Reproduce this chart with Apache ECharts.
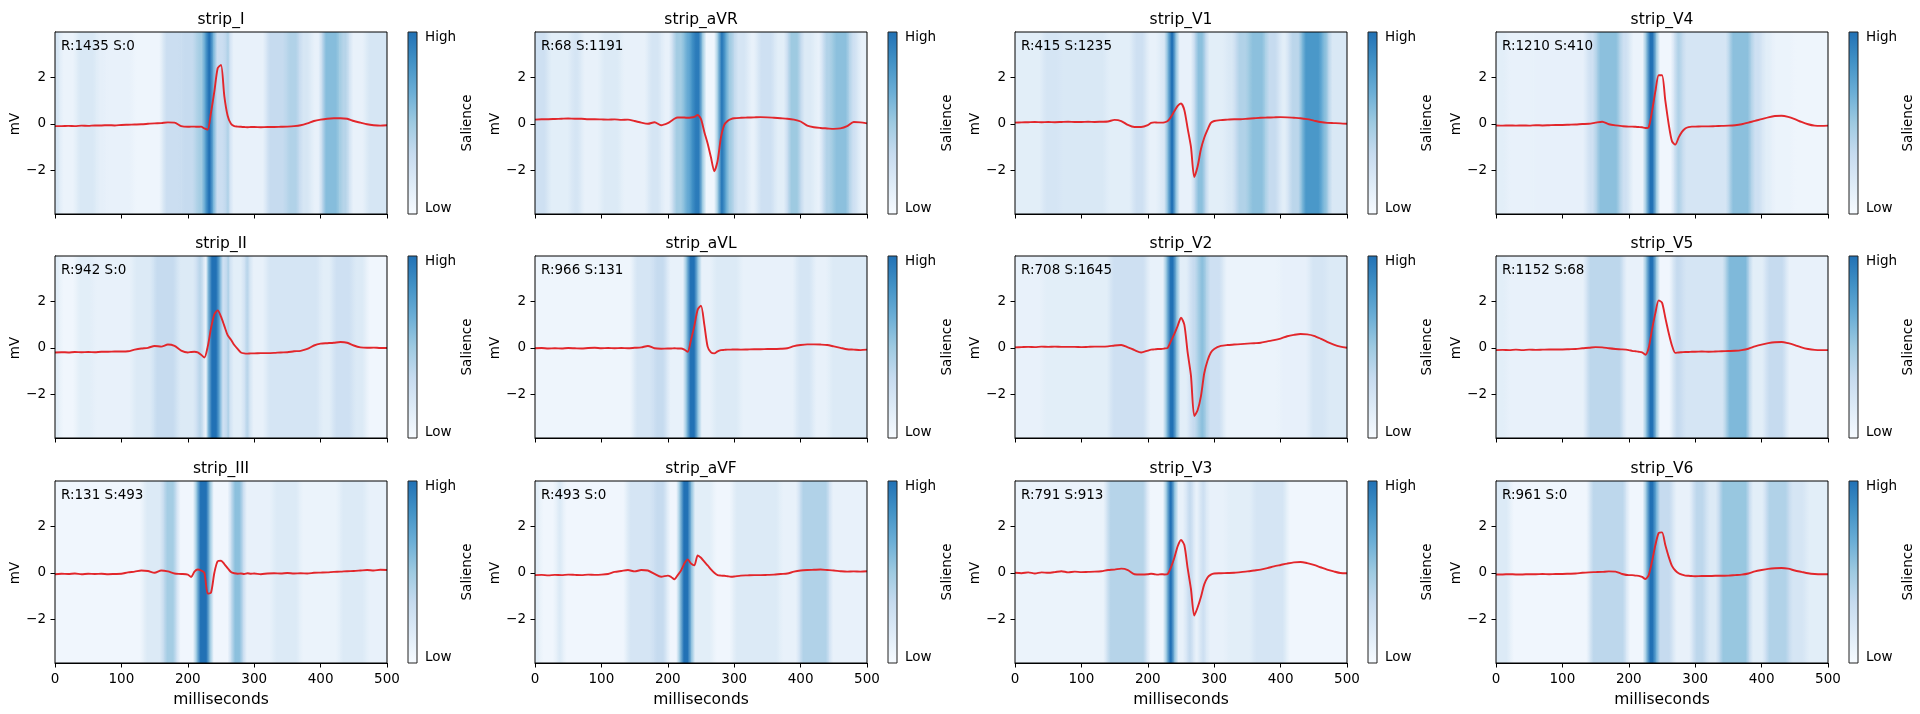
<!DOCTYPE html>
<html><head><meta charset="utf-8">
<script src="https://cdn.jsdelivr.net/npm/echarts@6/dist/echarts.min.js"></script>
<style>html,body{margin:0;padding:0;background:#fff}#c{width:1920px;height:714px}</style>
</head><body><div id="c"></div>
<script>
// ---------------- DATA ----------------
const leadNames = ['strip_I','strip_aVR','strip_V1','strip_V4','strip_II','strip_aVL','strip_V2','strip_V5','strip_III','strip_aVF','strip_V3','strip_V6'];
const rAmp = [1435,68,415,1210,942,966,708,1152,131,493,791,961];
const sAmp = [0,1191,1235,410,0,131,1645,68,493,0,913,0];
const xTicks = [0,100,200,300,400,500];
const yTicks = [-2,0,2];
const colorbarLabels = ['Low','High'];

const timeMs = [0,10,20,30,40,50,60,70,80,90,100,110,120,130,140,150,160,170,180,190,
 200,205,210,215,220,225,230,235,240,245,250,255,260,265,270,275,280,285,290,295,
 300,310,320,330,340,350,360,370,380,390,400,410,420,430,440,450,460,470,480,490,500];

const ecg_I = [-0.10,-0.10,-0.09,-0.10,-0.08,-0.09,-0.07,-0.07,-0.06,-0.07,
 -0.05,-0.04,-0.03,-0.02,0.00,0.02,0.03,0.06,0.05,-0.10,
 -0.13,-0.12,-0.12,-0.13,-0.12,-0.20,-0.25,0.50,1.40,2.40,
 2.55,1.20,0.35,0.00,-0.10,-0.12,-0.13,-0.14,-0.15,-0.14,
 -0.14,-0.15,-0.14,-0.14,-0.13,-0.12,-0.10,-0.06,0.02,0.12,
 0.18,0.22,0.24,0.24,0.22,0.12,0.05,-0.02,-0.06,-0.08,-0.06];
const ecg_aVR = [0.18,0.20,0.20,0.21,0.22,0.23,0.22,0.22,0.20,0.20,
 0.19,0.18,0.19,0.17,0.18,0.12,0.05,0.00,0.07,-0.06,
 0.03,0.12,0.22,0.27,0.27,0.27,0.26,0.27,0.30,0.38,
 0.20,-0.35,-0.85,-1.45,-2.05,-1.60,-0.60,-0.05,0.12,0.20,
 0.24,0.26,0.27,0.28,0.29,0.28,0.26,0.24,0.22,0.18,
 0.10,-0.08,-0.15,-0.18,-0.20,-0.22,-0.20,-0.10,0.08,0.06,0.02];
const ecg_V1 = [0.05,0.06,0.07,0.08,0.07,0.08,0.07,0.08,0.09,0.08,
 0.08,0.09,0.08,0.09,0.10,0.17,0.12,-0.05,-0.14,-0.14,
 -0.06,0.04,0.06,0.05,0.05,0.06,0.12,0.30,0.55,0.78,
 0.88,0.60,-0.20,-1.00,-2.30,-1.85,-1.10,-0.60,-0.25,0.04,
 0.12,0.16,0.18,0.20,0.20,0.22,0.24,0.26,0.27,0.28,
 0.29,0.28,0.26,0.24,0.20,0.14,0.08,0.04,0.03,0.02,0.00];
const ecg_V4 = [-0.07,-0.08,-0.07,-0.08,-0.07,-0.08,-0.06,-0.07,-0.06,-0.05,
 -0.05,-0.04,-0.03,-0.01,0.00,0.05,0.09,-0.02,-0.07,-0.10,
 -0.12,-0.12,-0.13,-0.14,-0.15,-0.18,-0.15,0.55,1.40,2.10,
 2.10,1.00,0.00,-0.75,-0.90,-0.60,-0.35,-0.20,-0.14,-0.12,
 -0.12,-0.11,-0.11,-0.10,-0.09,-0.08,-0.06,-0.02,0.05,0.13,
 0.20,0.28,0.34,0.35,0.30,0.20,0.08,-0.02,-0.08,-0.09,-0.08];
const ecg_II = [-0.20,-0.19,-0.20,-0.18,-0.19,-0.18,-0.19,-0.17,-0.17,-0.16,
 -0.16,-0.15,-0.08,-0.03,0.00,0.08,0.05,0.14,0.08,-0.12,
 -0.20,-0.18,-0.17,-0.20,-0.30,-0.42,0.05,0.85,1.45,1.62,
 1.35,0.95,0.55,0.35,0.12,-0.05,-0.20,-0.24,-0.25,-0.24,
 -0.24,-0.23,-0.23,-0.22,-0.20,-0.19,-0.15,-0.13,-0.05,0.10,
 0.18,0.20,0.22,0.25,0.22,0.10,0.02,0.00,0.01,-0.01,-0.01];
const ecg_aVL = [-0.02,-0.01,-0.03,-0.02,-0.03,-0.01,-0.02,-0.03,-0.01,0.00,
 -0.02,-0.01,-0.02,-0.01,-0.02,0.00,0.02,0.08,-0.02,-0.04,
 -0.03,-0.03,-0.02,-0.03,-0.03,-0.08,-0.17,0.35,0.95,1.65,
 1.82,1.00,0.05,-0.20,-0.24,-0.15,-0.10,-0.09,-0.08,-0.08,
 -0.07,-0.08,-0.07,-0.06,-0.06,-0.05,-0.05,-0.04,-0.02,0.07,
 0.12,0.15,0.15,0.14,0.12,0.06,0.00,-0.06,-0.08,-0.10,-0.08];
const ecg_V2 = [0.02,0.03,0.04,0.03,0.05,0.04,0.05,0.04,0.04,0.04,
 0.03,0.04,0.05,0.05,0.06,0.10,0.12,0.02,-0.10,-0.20,
 -0.12,-0.08,-0.07,-0.05,-0.05,-0.03,0.00,0.30,0.60,0.95,
 1.30,1.00,-0.20,-1.20,-2.95,-2.70,-2.10,-1.10,-0.55,-0.20,
 -0.05,0.08,0.12,0.14,0.16,0.18,0.20,0.22,0.28,0.33,
 0.40,0.50,0.56,0.60,0.58,0.52,0.40,0.26,0.14,0.05,0.00];
const ecg_V5 = [-0.10,-0.09,-0.10,-0.08,-0.10,-0.08,-0.09,-0.08,-0.07,-0.07,
 -0.07,-0.06,-0.05,-0.02,0.00,0.03,0.02,-0.02,-0.05,-0.07,
 -0.10,-0.13,-0.15,-0.17,-0.20,-0.30,0.00,0.80,1.50,2.05,
 1.95,1.30,0.65,0.10,-0.22,-0.20,-0.19,-0.18,-0.18,-0.17,
 -0.17,-0.16,-0.17,-0.16,-0.15,-0.14,-0.13,-0.10,-0.04,0.06,
 0.14,0.20,0.24,0.25,0.20,0.12,0.02,-0.05,-0.09,-0.10,-0.10];
const ecg_III = [-0.06,-0.04,-0.05,-0.03,-0.06,-0.04,-0.05,-0.04,-0.06,-0.05,
 -0.04,0.02,0.05,0.10,0.08,0.00,0.10,0.06,-0.03,-0.05,
 -0.08,-0.18,0.05,0.14,0.10,0.00,-0.90,-0.85,0.00,0.50,
 0.52,0.38,0.20,0.03,-0.02,-0.04,-0.03,-0.05,-0.02,-0.04,
 -0.03,-0.06,-0.03,-0.02,-0.03,-0.01,-0.03,-0.02,-0.03,0.00,
 0.01,0.02,0.04,0.05,0.07,0.08,0.10,0.12,0.10,0.13,0.12];
const ecg_aVF = [-0.10,-0.09,-0.11,-0.09,-0.10,-0.08,-0.09,-0.10,-0.08,-0.09,
 -0.08,-0.05,0.04,0.08,0.12,0.06,0.12,0.10,-0.05,-0.17,
 -0.12,-0.18,-0.28,-0.10,0.10,0.40,0.58,0.40,0.32,0.75,
 0.65,0.48,0.32,0.15,0.00,-0.10,-0.12,-0.13,-0.15,-0.17,
 -0.16,-0.12,-0.11,-0.10,-0.10,-0.09,-0.08,-0.05,-0.03,0.05,
 0.10,0.12,0.13,0.14,0.12,0.10,0.07,0.05,0.06,0.05,0.07];
const ecg_V3 = [0.00,-0.02,0.02,-0.03,0.02,0.00,0.03,0.07,0.02,0.05,
 0.03,0.04,0.05,0.07,0.12,0.14,0.18,0.12,-0.06,-0.07,
 -0.06,-0.04,-0.06,-0.08,-0.06,-0.07,-0.05,0.25,0.65,1.15,
 1.42,1.20,0.20,-0.70,-1.85,-1.50,-1.05,-0.50,-0.20,-0.08,
 -0.03,-0.02,-0.01,0.00,0.03,0.06,0.10,0.14,0.20,0.28,
 0.34,0.40,0.45,0.47,0.42,0.34,0.24,0.14,0.06,-0.01,-0.02];
const ecg_V6 = [-0.07,-0.07,-0.06,-0.07,-0.07,-0.06,-0.06,-0.05,-0.06,-0.05,
 -0.05,-0.04,-0.03,0.00,0.02,0.03,0.04,0.06,0.05,-0.05,
 -0.10,-0.10,-0.12,-0.13,-0.18,-0.27,-0.10,0.50,1.20,1.72,
 1.75,1.20,0.70,0.30,0.10,-0.02,-0.08,-0.12,-0.13,-0.14,
 -0.15,-0.14,-0.14,-0.13,-0.13,-0.12,-0.10,-0.08,-0.03,0.06,
 0.12,0.17,0.20,0.21,0.18,0.10,0.04,-0.02,-0.05,-0.06,-0.06];

// salience bands: [start ms, end ms, salience 0..1]
const sal_I = [[0,7,0.22],[7,32,0.08],[32,62,0.2],[62,77,0.12],[77,117,0.1],[117,162,0.06],[162,190,0.3],[190,212,0.33],[212,226,0.48],[226,238,1.0],[238,257,0.3],[257,263,0.42],[263,318,0.1],[318,348,0.33],[348,368,0.42],[368,385,0.22],[385,402,0.1],[402,428,0.58],[428,443,0.4],[443,468,0.1],[468,500,0.22]];
const sal_aVR = [[0,19,0.28],[19,54,0.14],[54,69,0.23],[69,99,0.1],[99,129,0.18],[129,170,0.1],[170,190,0.23],[190,207,0.1],[207,225,0.48],[225,236,0.7],[236,252,0.95],[252,275,0.05],[275,287,0.95],[287,300,0.48],[300,320,0.23],[320,335,0.1],[335,360,0.28],[360,380,0.14],[380,400,0.5],[400,420,0.18],[420,433,0.1],[433,448,0.42],[448,473,0.56],[473,486,0.28],[486,500,0.1]];
const sal_V1 = [[0,42,0.14],[42,67,0.23],[67,137,0.2],[137,177,0.14],[177,197,0.28],[197,217,0.1],[217,230,0.2],[230,242,1.0],[242,270,0.1],[270,287,0.56],[287,317,0.14],[317,332,0.2],[332,352,0.42],[352,377,0.56],[377,397,0.33],[397,412,0.14],[412,432,0.38],[432,462,0.8],[462,472,0.56],[472,500,0.2]];
const sal_V4 = [[0,16,0.14],[16,56,0.1],[56,136,0.11],[136,151,0.28],[151,186,0.56],[186,201,0.28],[201,226,0.08],[226,241,1.0],[241,268,0.05],[268,281,0.42],[281,351,0.23],[351,384,0.56],[384,401,0.28],[401,416,0.14],[416,447,0.08],[447,500,0.06]];
const sal_II = [[0,7,0.14],[7,32,0.05],[32,57,0.14],[57,117,0.1],[117,148,0.18],[148,183,0.33],[183,213,0.18],[213,223,0.38],[223,230,0.1],[230,248,1.0],[248,258,0.28],[258,263,0.42],[263,285,0.14],[285,293,0.38],[293,318,0.1],[318,398,0.23],[398,418,0.14],[418,448,0.28],[448,468,0.18],[468,500,0.05]];
const sal_aVL = [[0,148,0.06],[148,178,0.23],[178,198,0.33],[198,228,0.1],[228,245,1.0],[245,268,0.1],[268,308,0.18],[308,393,0.1],[393,418,0.23],[418,443,0.1],[443,500,0.18]];
const sal_V2 = [[0,42,0.1],[42,143,0.14],[143,198,0.28],[198,228,0.1],[228,243,1.0],[243,263,0.14],[263,275,0.33],[275,288,0.56],[288,313,0.28],[313,398,0.08],[398,443,0.11],[443,468,0.23],[468,500,0.18]];
const sal_V5 = [[0,16,0.14],[16,136,0.1],[136,191,0.37],[191,226,0.1],[226,241,1.0],[241,266,0.05],[266,281,0.33],[281,346,0.23],[346,381,0.6],[381,406,0.14],[406,436,0.33],[436,500,0.1]];
const sal_III = [[0,133,0.05],[133,163,0.18],[163,183,0.47],[183,213,0.05],[213,233,1.0],[233,265,0.05],[265,283,0.56],[283,328,0.1],[328,368,0.18],[368,428,0.08],[428,468,0.18],[468,500,0.1]];
const sal_aVF = [[0,7,0.14],[7,32,0.05],[32,42,0.18],[42,138,0.05],[138,178,0.23],[178,198,0.33],[198,218,0.05],[218,235,1.0],[235,268,0.14],[268,298,0.05],[298,368,0.18],[368,398,0.1],[398,443,0.42],[443,500,0.1]];
const sal_V3 = [[0,138,0.08],[138,198,0.4],[198,228,0.05],[228,240,1.0],[240,258,0.1],[258,268,0.33],[268,278,0.1],[278,288,0.28],[288,318,0.1],[318,358,0.14],[358,408,0.23],[408,500,0.05]];
const sal_V6 = [[0,21,0.18],[21,141,0.05],[141,196,0.37],[196,226,0.05],[226,241,1.0],[241,266,0.33],[266,296,0.1],[296,316,0.37],[316,336,0.18],[336,381,0.52],[381,406,0.14],[406,441,0.42],[441,466,0.23],[466,500,0.14]];

// ---------------- LAYOUT / STYLE ----------------
const ecgs = [ecg_I,ecg_aVR,ecg_V1,ecg_V4,ecg_II,ecg_aVL,ecg_V2,ecg_V5,ecg_III,ecg_aVF,ecg_V3,ecg_V6];
const sals = [sal_I,sal_aVR,sal_V1,sal_V4,sal_II,sal_aVL,sal_V2,sal_V5,sal_III,sal_aVF,sal_V3,sal_V6];
const colLeft = [55, 535, 1015, 1496];
const rowTop = [32, 256, 481];
const plotW = 332, plotH = 182;
const Y_MIN = -3.9, Y_MAX = 3.97;
const FONT = 'DejaVu Sans';
const SMALL = 13.5, LARGE = 15.5;
const EDGE_MS = 6;
const LINE_COLOR = '#e2262b';
const cmapStops = ['#f7fbff','#deebf7','#c6dbef','#9ecae1','#6baed6','#4292c6','#2171b5'];

function hex2rgb(h){return [parseInt(h.slice(1,3),16),parseInt(h.slice(3,5),16),parseInt(h.slice(5,7),16)];}
const cmapRGB = cmapStops.map(hex2rgb);
function cmap(v){
  v = Math.max(0, Math.min(1, v));
  const n = cmapRGB.length - 1;
  const p = v * n; const i = Math.min(n - 1, Math.floor(p)); const f = p - i;
  const a = cmapRGB[i], b = cmapRGB[i+1];
  return 'rgb(' + [0,1,2].map(k => Math.round(a[k] + (b[k]-a[k])*f)).join(',') + ')';
}
function minusFmt(v){ return v < 0 ? '\u2212' + Math.abs(v) : String(v); }

function heatRender(bands){
  return function(params, api){
    const i = params.dataIndex;
    const s = api.value(0), e = api.value(1), v = api.value(2);
    const p0 = api.coord([s, Y_MAX]), p1 = api.coord([e, Y_MIN]);
    const vl = i > 0 ? bands[i-1][2] : v;
    const vr = i < bands.length - 1 ? bands[i+1][2] : v;
    const f = Math.min(0.45, EDGE_MS / (e - s));
    const fill = new echarts.graphic.LinearGradient(0,0,1,0,[
      {offset:0, color:cmap((vl+v)/2)},{offset:f, color:cmap(v)},
      {offset:1-f, color:cmap(v)},{offset:1, color:cmap((v+vr)/2)}]);
    return {type:'rect', shape:{x:p0[0], y:p0[1], width:(p1[0]-p0[0])+0.6, height:p1[1]-p0[1]}, style:{fill:fill}};
  };
}
function frameRender(params){
  const c = params.coordSys;
  return {type:'rect', shape:{x:c.x, y:c.y, width:c.width, height:c.height}, style:{fill:null, stroke:'#000', lineWidth:1}};
}
function colorbarRender(params){
  const c = params.coordSys;
  const stops = cmapStops.map((col,k)=>({offset:k/(cmapStops.length-1), color:col}));
  return {type:'rect', shape:{x:c.x, y:c.y, width:c.width, height:c.height},
    style:{fill:new echarts.graphic.LinearGradient(0,1,0,0,stops), stroke:'#222', lineWidth:1}};
}

const grids=[], xAxes=[], yAxes=[], series=[], graphics=[];
const N = leadNames.length;
for (let i = 0; i < N; i++){
  const r = Math.floor(i/4), c = i % 4;
  const L = colLeft[c], T = rowTop[r];
  const bottomRow = (r === 2);
  grids.push({left:L, top:T, width:plotW, height:plotH});
  xAxes.push({type:'value', gridIndex:i, min:0, max:500, interval:100,
    axisLine:{show:true, onZero:false, lineStyle:{color:'#000', width:1}},
    axisTick:{show:true, length:4.5, lineStyle:{color:'#000', width:1}},
    axisLabel:{show:bottomRow, margin:9, fontSize:SMALL, color:'#000', fontFamily:FONT},
    splitLine:{show:false}});
  yAxes.push({type:'value', gridIndex:i, min:Y_MIN, max:Y_MAX,
    axisLine:{show:true, onZero:false, lineStyle:{color:'#000', width:1}},
    axisTick:{show:true, length:4.5, customValues:yTicks, lineStyle:{color:'#000', width:1}},
    axisLabel:{show:true, customValues:yTicks, formatter:minusFmt, margin:9, fontSize:SMALL, color:'#000', fontFamily:FONT},
    splitLine:{show:false}});
  series.push({type:'custom', xAxisIndex:i, yAxisIndex:i, data:sals[i], renderItem:heatRender(sals[i]), clip:true, z:1, silent:true});
  series.push({type:'line', xAxisIndex:i, yAxisIndex:i, data:timeMs.map((t,k)=>[t, ecgs[i][k]]),
    showSymbol:false, smooth:0.25, lineStyle:{color:LINE_COLOR, width:1.9}, itemStyle:{color:LINE_COLOR}, z:3, clip:true, silent:true});
  series.push({type:'custom', xAxisIndex:i, yAxisIndex:i, data:[[250,0]], renderItem:frameRender, z:5, silent:true});

  const fs = px => px + 'px "' + FONT + '"';
  graphics.push({type:'text', x:L+plotW/2, y:T-12, z:10, style:{text:leadNames[i], font:fs(LARGE), fill:'#000', textAlign:'center', align:'center', textVerticalAlign:'middle', verticalAlign:'middle'}});
  graphics.push({type:'text', x:L+6, y:T+14.5, z:10, style:{text:'R:'+rAmp[i]+' S:'+sAmp[i], font:fs(SMALL), fill:'#000', textAlign:'left', align:'left', textVerticalAlign:'middle', verticalAlign:'middle'}});
  graphics.push({type:'text', x:L-40, y:T+plotH/2+1, rotation:Math.PI/2, z:10, style:{text:'mV', font:fs(SMALL), fill:'#000', textAlign:'center', align:'center', textVerticalAlign:'middle', verticalAlign:'middle'}});
  graphics.push({type:'text', x:L+412, y:T+plotH/2, rotation:Math.PI/2, z:10, style:{text:'Salience', font:fs(SMALL), fill:'#000', textAlign:'center', align:'center', textVerticalAlign:'middle', verticalAlign:'middle'}});
  if (bottomRow){
    graphics.push({type:'text', x:L+plotW/2, y:T+plotH+37, z:10, style:{text:'milliseconds', font:fs(LARGE), fill:'#000', textAlign:'center', align:'center', textVerticalAlign:'middle', verticalAlign:'middle'}});
  }
}
// colorbars
for (let i = 0; i < N; i++){
  const r = Math.floor(i/4), c = i % 4;
  const L = colLeft[c], T = rowTop[r];
  const gi = N + i;
  grids.push({left:L+353, top:T, width:9, height:plotH});
  xAxes.push({type:'value', gridIndex:gi, min:0, max:1, show:false});
  yAxes.push({type:'value', gridIndex:gi, min:0, max:1, position:'right',
    axisLine:{show:false},
    axisTick:{show:true, length:4.5, customValues:[0.03,0.97], lineStyle:{color:'#000', width:1}},
    axisLabel:{show:true, customValues:[0.03,0.97], formatter:v => (v < 0.5 ? colorbarLabels[0] : colorbarLabels[1]), margin:8, fontSize:SMALL, color:'#000', fontFamily:FONT},
    splitLine:{show:false}});
  series.push({type:'custom', xAxisIndex:gi, yAxisIndex:gi, data:[[0.5,0.5]], renderItem:colorbarRender, z:2, silent:true});
}

const chart = echarts.init(document.getElementById('c'), null, {renderer:'canvas'});
chart.setOption({
  animation:false,
  backgroundColor:'#ffffff',
  textStyle:{fontFamily:FONT},
  grid:grids, xAxis:xAxes, yAxis:yAxes, series:series, graphic:graphics
});
</script></body></html>
